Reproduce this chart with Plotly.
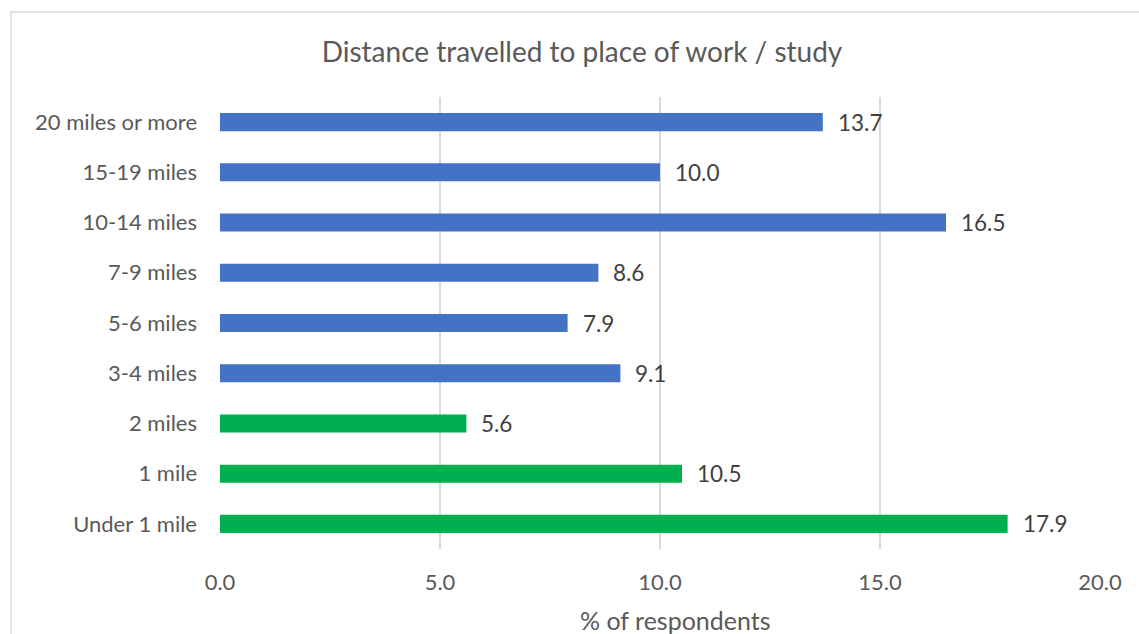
import plotly.graph_objects as go

# Survey distances, listed bottom to top
categories = ["Under 1 mile", "1 mile", "2 miles", "3-4 miles", "5-6 miles",
              "7-9 miles", "10-14 miles", "15-19 miles", "20 miles or more"]
values = [17.9, 10.5, 5.6, 9.1, 7.9, 8.6, 16.5, 10.0, 13.7]
bar_colors = ["#00B050", "#00B050", "#00B050", "#4472C4", "#4472C4",
              "#4472C4", "#4472C4", "#4472C4", "#4472C4"]
x_ticks = [0, 5, 10, 15, 20]

FONT = "Lato, Carlito, Calibri, sans-serif"
TEXT = "#595959"

fig = go.Figure(go.Bar(
    x=values, y=categories, orientation="h",
    marker=dict(color=bar_colors, line=dict(width=0)),
    width=0.36, hoverinfo="x+y",
))

# Value labels beside each bar
for c, v in zip(categories, values):
    fig.add_annotation(x=v, y=c, text=f"{v:.1f}", showarrow=False,
                       xanchor="left", xshift=13,
                       font=dict(family=FONT, size=22.5, color="#404040"))

# X axis title, placed below the tick labels
fig.add_annotation(text="% of respondents", xref="paper", yref="paper",
                   x=0.518, y=-0.157, xanchor="center", yanchor="middle",
                   showarrow=False,
                   font=dict(family=FONT, size=25, color=TEXT))

# Chart border
fig.add_shape(type="rect", xref="paper", yref="paper",
              x0=-0.2375, x1=1.08, y0=-0.22, y1=1.188,
              line=dict(color="#D9D9D9", width=1.5), layer="below")

fig.update_layout(
    width=1139, height=634,
    margin=dict(l=220, r=39, t=97, b=85),
    paper_bgcolor="white", plot_bgcolor="white",
    showlegend=False,
    font=dict(family=FONT, color=TEXT),
    title=dict(text="Distance travelled to place of work / study",
               x=582 / 1139, xanchor="center", xref="container",
               y=1 - 52 / 634, yanchor="middle", yref="container",
               font=dict(family=FONT, size=28, color=TEXT)),
    bargap=0.64,
)
fig.update_xaxes(range=[0, 20], tickvals=x_ticks,
                 ticktext=[f"{t:.1f}" for t in x_ticks],
                 showgrid=True, gridcolor="#D9D9D9", gridwidth=1.5,
                 zeroline=False, showline=False, ticks="",
                 tickfont=dict(family=FONT, size=22, color=TEXT),
                 ticklabelstandoff=18)
fig.update_yaxes(categoryorder="array", categoryarray=categories,
                 showgrid=False, zeroline=False, showline=False, ticks="",
                 tickfont=dict(family=FONT, size=22, color=TEXT),
                 ticklabelstandoff=22)

fig.write_html("out.html")
